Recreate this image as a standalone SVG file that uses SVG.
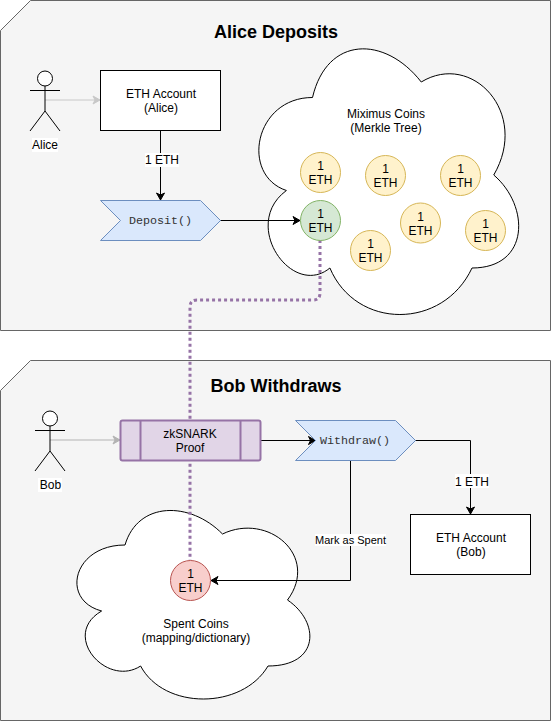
<svg xmlns="http://www.w3.org/2000/svg" width="551" height="721" viewBox="0 0 551 721">
<style>
text{font-family:"Liberation Sans",Arial,Helvetica,sans-serif;font-size:12px;fill:#000;text-anchor:middle}
.panel{fill:#f5f5f5;stroke:#666;stroke-width:1}
.title{font-size:18px;font-weight:bold}
.cloud{fill:#fff;stroke:#000;stroke-width:1}
.box{fill:#fff;stroke:#000;stroke-width:1}
.coin{fill:#fff2cc;stroke:#d6b656;stroke-width:1}
.step{fill:#dae8fc;stroke:#6c8ebf;stroke-width:1}
.mono{font-family:"Liberation Mono","Courier New",monospace;font-size:11.7px;fill:#333}
.actor{fill:#fff;stroke:#000;stroke-width:1}
.line{fill:none;stroke:#000;stroke-width:1}
.gray{fill:none;stroke:#c8c8c8;stroke-width:1}
.gray2{fill:none;stroke:#b3b3b3;stroke-width:1}
.dots{fill:none;stroke:#9673a6;stroke-width:3;stroke-dasharray:3 3}
.lbl{fill:#fff;stroke:none}
.small{font-size:11px}
</style>
<defs>
<marker id="ab" markerUnits="userSpaceOnUse" markerWidth="10" markerHeight="10" refX="8" refY="5" orient="auto"><path d="M1 1 L8 5 L1 9 L3 5 Z" fill="#000" stroke="#000"/></marker>
<marker id="ag" markerUnits="userSpaceOnUse" markerWidth="10" markerHeight="10" refX="8" refY="5" orient="auto"><path d="M1 1 L8 5 L1 9 L3 5 Z" fill="#c8c8c8" stroke="#c8c8c8"/></marker>
<marker id="ag2" markerUnits="userSpaceOnUse" markerWidth="10" markerHeight="10" refX="8" refY="5" orient="auto"><path d="M1 1 L8 5 L1 9 L3 5 Z" fill="#b3b3b3" stroke="#b3b3b3"/></marker>
</defs>

<g id="panel-alice"><path class="panel" d="M30.500 .5H550.500V330.500H.5V30.500Z"/><text class="title" x="276" y="38">Alice Deposits</text></g>
<g id="panel-bob"><path class="panel" d="M30.500 360.500H550.500V720.500H.5V390.500Z"/><text class="title" x="276" y="392">Bob Withdraws</text></g>

<g id="cloud-mixima"><path class="cloud" d="M312.500 97.500C254.500 97.500 240 175 286.400 190.500C240 224.600 292.200 299 329.900 268C356 330 443 330 472 268C530 268 530 206 493.750 175C530 113 472 51 421.250 82C385 35.500 327 35.500 312.500 97.500Z"/><text x="386" y="118">Miximus Coins</text><text x="386" y="132">(Merkle Tree)</text></g>
<g id="cloud-spent"><path class="cloud" d="M125 545C73 545 60 600 101.600 611C60 635.200 106.800 688 140.600 666C164 710 242 710 268 666C320 666 320 622 287.500 600C320 556 268 512 222.500 534C190 501 138 501 125 545Z"/><text x="196" y="628">Spent Coins</text><text x="196" y="642">(mapping/dictionary)</text></g>

<g id="connectors">
<path class="dots" d="M320 240V293Q320 300 313 300H197Q190 300 190 307V560"/>
<path class="gray" d="M45 100H100" marker-end="url(#ag)"/>
<path class="gray2" d="M50 440H120" marker-end="url(#ag2)"/>
<path class="line" d="M160.500 130V200" marker-end="url(#ab)"/>
<path class="line" d="M220 220.500H300" marker-end="url(#ab)"/>
<path class="line" d="M260 440.500H315.500" marker-end="url(#ab)"/>
<path class="line" d="M415 440.500H470.500V514" marker-end="url(#ab)"/>
<path class="line" d="M350.500 460V580.500H211" marker-end="url(#ab)"/>
</g>

<g id="actor-alice"><circle class="actor" cx="45" cy="78.500" r="7.500"/><path class="line" d="M45 86V111M30 90.500H60M45 111L30 131M45 111L60 131"/><rect class="lbl" x="32" y="138" width="26" height="14"/><text x="45" y="149">Alice</text></g>
<g id="account-alice"><rect class="box" x="100.500" y="70.500" width="120" height="60"/><text x="161" y="98">ETH Account</text><text x="161" y="112">(Alice)</text></g>
<g id="label-1eth-a"><rect class="lbl" x="145" y="153" width="34" height="14"/><text x="162" y="164">1 ETH</text></g>
<g id="deposit"><path class="step" d="M100.500 200.500H200.500L220.500 220.500L200.500 240.500H100.500L120.500 220.500Z"/><text class="mono" x="160.500" y="224">Deposit()</text></g>

<g id="coin-1"><circle class="coin" cx="320.500" cy="172.500" r="20"/><text x="320.500" y="170">1</text><text x="320.500" y="184">ETH</text></g>
<g id="coin-2"><circle class="coin" cx="385.500" cy="175.500" r="20"/><text x="385.500" y="173">1</text><text x="385.500" y="187">ETH</text></g>
<g id="coin-3"><circle class="coin" cx="460.500" cy="175.500" r="20"/><text x="460.500" y="173">1</text><text x="460.500" y="187">ETH</text></g>
<g id="coin-4"><circle cx="320.500" cy="220.500" r="20" fill="#d5e8d4" stroke="#82b366"/><text x="320.500" y="218">1</text><text x="320.500" y="232">ETH</text></g>
<g id="coin-5"><circle class="coin" cx="420.500" cy="223" r="20"/><text x="420.500" y="221">1</text><text x="420.500" y="235">ETH</text></g>
<g id="coin-6"><circle class="coin" cx="485.500" cy="230.500" r="20"/><text x="485.500" y="228">1</text><text x="485.500" y="242">ETH</text></g>
<g id="coin-7"><circle class="coin" cx="370.500" cy="250.500" r="20"/><text x="370.500" y="248">1</text><text x="370.500" y="262">ETH</text></g>

<g id="actor-bob"><circle class="actor" cx="50" cy="418.500" r="7.500"/><path class="line" d="M50 426V451M35 430.500H65M50 451L35 471M50 451L65 471"/><rect class="lbl" x="38" y="478" width="24" height="14"/><text x="50.500" y="489">Bob</text></g>
<g id="proof"><rect x="120.500" y="420.500" width="140" height="40" rx="2" fill="#e1d5e7" stroke="#9673a6" stroke-width="2"/><path d="M140.500 420.500V460.500M240.500 420.500V460.500" fill="none" stroke="#9673a6" stroke-width="2"/><text x="190" y="438">zkSNARK</text><text x="190" y="452">Proof</text></g>
<g id="withdraw"><path class="step" d="M295.500 420.500H395.500L415.500 440.500L395.500 460.500H295.500L315.500 440.500Z"/><text class="mono" x="355" y="444">Withdraw()</text></g>
<g id="label-1eth-b"><rect class="lbl" x="455" y="474" width="34" height="14"/><text x="472" y="486">1 ETH</text></g>
<g id="account-bob"><rect class="box" x="410.500" y="514.500" width="120" height="60"/><text x="471" y="542">ETH Account</text><text x="471" y="556">(Bob)</text></g>
<g id="label-spent"><rect class="lbl" x="315" y="534" width="71" height="12"/><text class="small" x="350.500" y="544">Mark as Spent</text></g>
<g id="coin-spent"><circle cx="190.500" cy="580.500" r="20" fill="#f8cecc" stroke="#b85450"/><text x="190.500" y="578">1</text><text x="190.500" y="592">ETH</text></g>
</svg>
